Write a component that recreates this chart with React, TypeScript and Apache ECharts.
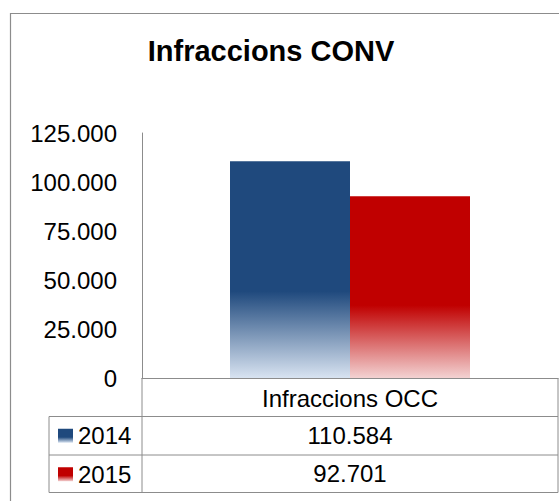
import React, { useEffect, useRef } from "react";
import * as echarts from "echarts";

const title = "Infraccions CONV";
const categories = ["Infraccions OCC"];
const seriesNames = ["2014", "2015"];
const values2014 = [110584];
const values2015 = [92701];
const yTicks = { min: 0, max: 125000, interval: 25000 };

const FONT = "'Liberation Sans', Arial, sans-serif";
const GRID_LEFT = 142;
const GRID_RIGHT_X = 558;
const GRID_TOP = 133;
const AXIS_Y = 378;
const ROW1 = 416.5;
const ROW2 = 455;
const ROW3 = 492.5;
const LEG_LEFT = 49;
const LINE = "#8c8c8c";

function fmt(v: number): string {
  return v.toString().replace(/\B(?=(\d{3})+(?!\d))/g, ".");
}

function grad(solid: string, light: string) {
  return new echarts.graphic.LinearGradient(0, 0, 0, 1, [
    { offset: 0, color: solid },
    { offset: 0.6, color: solid },
    { offset: 1, color: light },
  ]);
}

export default function App() {
  const ref = useRef<HTMLDivElement>(null);
  useEffect(() => {
    if (!ref.current) return;
    const chart = echarts.init(ref.current, null, { renderer: "svg" });
    const W = 559;
    const H = 501;
    const colors = [grad("#1f497d", "#d8e3f1"), grad("#c00000", "#f3d2d2")];
    const allValues = [values2014, values2015];
    const centerX = (GRID_LEFT + GRID_RIGHT_X) / 2;
    const rowCenters = [(ROW1 + ROW2) / 2, (ROW2 + ROW3) / 2];

    const line = (x1: number, y1: number, x2: number, y2: number) => ({
      type: "line",
      shape: { x1, y1, x2, y2 },
      style: { stroke: LINE, lineWidth: 1 },
      silent: true,
    });

    const graphics: any[] = [
      {
        type: "rect",
        shape: { x: 10.5, y: 13.5, width: 700, height: 700 },
        style: { fill: "none", stroke: "#8c8c8c", lineWidth: 1.2 },
        silent: true,
      },
      {
        type: "text",
        x: 271,
        y: 51,
        style: {
          text: title,
          font: `bold 29px ${FONT}`,
          fill: "#000",
          align: "center",
          verticalAlign: "middle",
        },
      },
      line(LEG_LEFT, ROW1, GRID_RIGHT_X, ROW1),
      line(LEG_LEFT, ROW2, GRID_RIGHT_X, ROW2),
      line(LEG_LEFT, ROW3, GRID_RIGHT_X, ROW3),
      line(GRID_LEFT, AXIS_Y, GRID_LEFT, ROW3),
      line(LEG_LEFT, ROW1, LEG_LEFT, ROW3),
      line(GRID_RIGHT_X, AXIS_Y, GRID_RIGHT_X, ROW3),
    ];
    allValues.forEach((vals, i) => {
      graphics.push({
        type: "text",
        x: centerX,
        y: rowCenters[i],
        style: {
          text: fmt(vals[0]),
          font: `24px ${FONT}`,
          fill: "#000",
          align: "center",
          verticalAlign: "middle",
        },
      });
    });

    chart.setOption({
      animation: false,
      backgroundColor: "#fff",
      textStyle: { fontFamily: FONT },
      grid: {
        left: GRID_LEFT,
        right: W - GRID_RIGHT_X,
        top: GRID_TOP,
        bottom: H - AXIS_Y,
        containLabel: false,
      },
      legend: {
        orient: "vertical",
        left: 58,
        top: rowCenters[0] - 12,
        padding: 0,
        itemWidth: 15,
        itemHeight: 14,
        itemGap: 14.5,
        itemTextGap: 10,
        selectedMode: false,
        textStyle: { fontSize: 24, color: "#000", fontFamily: FONT },
        data: seriesNames.map((n) => ({ name: n, icon: "rect" })),
      },
      xAxis: {
        type: "category",
        data: categories,
        axisLine: { show: true, lineStyle: { color: LINE, width: 1 } },
        axisTick: { show: false },
        axisLabel: {
          margin: 8,
          fontSize: 24,
          color: "#000",
          fontFamily: FONT,
          lineHeight: 24,
        },
        splitLine: { show: false },
      },
      yAxis: {
        type: "value",
        min: yTicks.min,
        max: yTicks.max,
        interval: yTicks.interval,
        axisLine: { show: true, lineStyle: { color: LINE, width: 1 } },
        axisTick: { show: false },
        splitLine: { show: false },
        axisLabel: {
          margin: 25,
          fontSize: 24,
          color: "#000",
          fontFamily: FONT,
          formatter: (v: number) => fmt(v),
        },
      },
      series: seriesNames.map((n, i) => ({
        name: n,
        type: "bar",
        data: allValues[i],
        barWidth: 120,
        barGap: "0%",
        itemStyle: { color: colors[i] },
      })),
      graphic: graphics,
    });
    return () => chart.dispose();
  }, []);
  return (
    <div
      ref={ref}
      style={{ position: "absolute", left: 0, top: 0, width: 559, height: 501 }}
    />
  );
}
